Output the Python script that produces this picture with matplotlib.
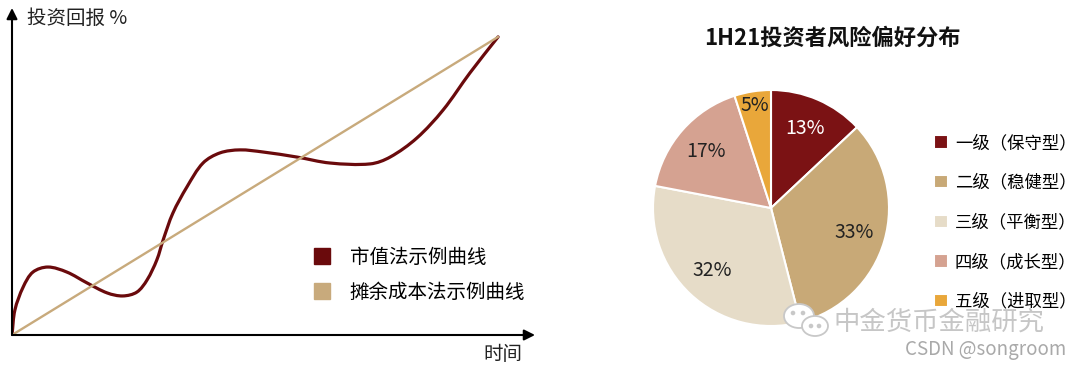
import matplotlib
matplotlib.use("Agg")
from matplotlib import pyplot as plt
from matplotlib.lines import Line2D
from matplotlib.patches import Ellipse, Circle, PathPatch
from matplotlib.path import Path
import numpy as np

plt.rcParams['font.family'] = ['Noto Sans CJK SC', 'DejaVu Sans']

# left chart: conceptual return curves (0..100 scale, end point = 100/100)
time_x = [0, 0.6, 2.3, 4.3, 7.4, 11.3, 15.4, 19.6, 22.8, 25.7, 27.8, 29.8, 31.1,
          33.1, 36.0, 39.3, 42.8, 46.9, 51.6, 58.6, 65.4, 73.7, 77.8, 83.3, 88.7, 94.2, 100]
market_y = [0, 8.4, 16.1, 21.1, 22.8, 21.1, 17.5, 14.1, 13.1, 14.4, 18.5, 25.2, 31.9,
            40.9, 49.7, 57.7, 61.1, 62.1, 61.4, 59.7, 57.7, 57.4, 59.7, 66.1, 75.5, 87.9, 100]
amort_x = [0, 100]
amort_y = [0, 100]
line_labels = ['市值法示例曲线', '摊余成本法示例曲线']
line_colors = ['#6a0a0c', '#c8aa7c']

# right chart: risk preference split
risk_labels = ['一级（保守型）', '二级（稳健型）', '三级（平衡型）', '四级（成长型）', '五级（进取型）']
risk_share = [13, 33, 32, 17, 5]
risk_colors = ['#7b1214', '#c8a977', '#e6dcc8', '#d5a291', '#e9a73a']
pct_colors = ['white', '#222222', '#222222', '#222222', '#222222']


def smooth_path(xs, ys, sx=4.86, sy=2.98):
    # cubic bezier through the read points, chord-length tangents (in pixel space)
    pts = np.column_stack([xs, ys]).astype(float) * [sx, sy]
    n = len(pts)
    d = np.linalg.norm(np.diff(pts, axis=0), axis=1)
    tang = np.zeros_like(pts)
    tang[0] = (pts[1] - pts[0]) / d[0]
    tang[-1] = (pts[-1] - pts[-2]) / d[-1]
    for i in range(1, n - 1):
        tang[i] = (pts[i + 1] - pts[i - 1]) / (d[i - 1] + d[i])
    verts = [pts[0]]
    codes = [Path.MOVETO]
    for i in range(n - 1):
        verts += [pts[i] + tang[i] * d[i] / 3, pts[i + 1] - tang[i + 1] * d[i] / 3, pts[i + 1]]
        codes += [Path.CURVE4] * 3
    verts = np.array(verts) / [sx, sy]
    return Path(verts, codes)


W, H = 1080, 369
fig = plt.figure(figsize=(W / 100, H / 100), dpi=100)

# ---- left line chart ----
ax = fig.add_axes((12 / W, 34 / H, 523 / W, 327 / H))
ax.set_xlim(0, 107.6)
ax.set_ylim(0, 109.7)
ax.axis('off')
ax.plot(amort_x, amort_y, color=line_colors[1], lw=1.7, solid_capstyle='round')
ax.add_patch(PathPatch(smooth_path(time_x, market_y), fill=False, ec=line_colors[0],
                       lw=2.3, joinstyle='round', capstyle='round'))
arrow = dict(arrowstyle='-|>', color='black', lw=1.5, mutation_scale=16, shrinkA=0, shrinkB=0)
ax.annotate('', xy=(1, 0), xytext=(0, 0), xycoords='axes fraction', arrowprops=arrow)
ax.annotate('', xy=(0, 1), xytext=(0, 0), xycoords='axes fraction', arrowprops=arrow)

handles = [Line2D([], [], ls='', marker='s', ms=11.5, color=c) for c in line_colors]
ax.legend(handles, line_labels, loc='upper left', bbox_to_anchor=(292 / 523, 1 - 231 / 327),
          frameon=False, fontsize=14, handletextpad=0.95, labelspacing=0.72,
          handlelength=1.0, borderaxespad=0)

fig.text(27 / W, 1 - 18 / H, '投资回报 %', fontsize=14, va='center', ha='left', color='#222222')
fig.text(503 / W, 1 - 355 / H, '时间', fontsize=14, va='center', ha='center', color='#222222')

# ---- right pie chart ----
R = 118
cx, cy = 771, 208
side = 2.5 * R
pax = fig.add_axes(((cx - side / 2) / W, 1 - (cy + side / 2) / H, side / W, side / H))
wedges, texts, autotexts = pax.pie(
    risk_share, colors=risk_colors, startangle=90, counterclock=False,
    autopct='%d%%', pctdistance=0.73,
    wedgeprops=dict(edgecolor='white', linewidth=1.5),
    textprops=dict(fontsize=14))
for t, c in zip(autotexts, pct_colors):
    t.set_color(c)
# small slice label sits near the rim
x, y = autotexts[-1].get_position()
autotexts[-1].set_position((x * 0.88 / 0.73, y * 0.88 / 0.73))
pax.set_aspect('equal')

fig.text(832 / W, 1 - 38 / H, '1H21投资者风险偏好分布', fontsize=16, fontweight='bold',
         ha='center', va='center', color='#111111')

fig.legend(wedges, risk_labels, loc='upper left', bbox_to_anchor=(934 / W, 1 - 134 / H),
           frameon=False, fontsize=12.5, handlelength=0.8, handleheight=0.8,
           handletextpad=0.4, labelspacing=1.25, borderaxespad=0, borderpad=0)

# ---- watermark ----
ov = fig.add_axes((0, 0, 1, 1), zorder=5)
ov.set_xlim(0, W)
ov.set_ylim(H, 0)
ov.axis('off')
ov.add_patch(Ellipse((799, 316), 30, 24, fc='white', ec='#c8c8c8', lw=1.3))
ov.add_patch(Ellipse((815, 326), 26, 20, fc='white', ec='#c8c8c8', lw=1.3))
for ex, ey in [(793, 313), (803, 313), (811, 326), (819, 326)]:
    ov.add_patch(Circle((ex, ey), 1.6, color='#c8c8c8'))
ov.text(833, 322, '中金货币金融研究', fontsize=19, color='#c6c6c6', va='center', ha='left')
ov.text(1066, 349, 'CSDN @songroom', fontsize=13.5, color='#a9a9a9', va='center', ha='right')

fig.savefig('out.png', dpi=100)
